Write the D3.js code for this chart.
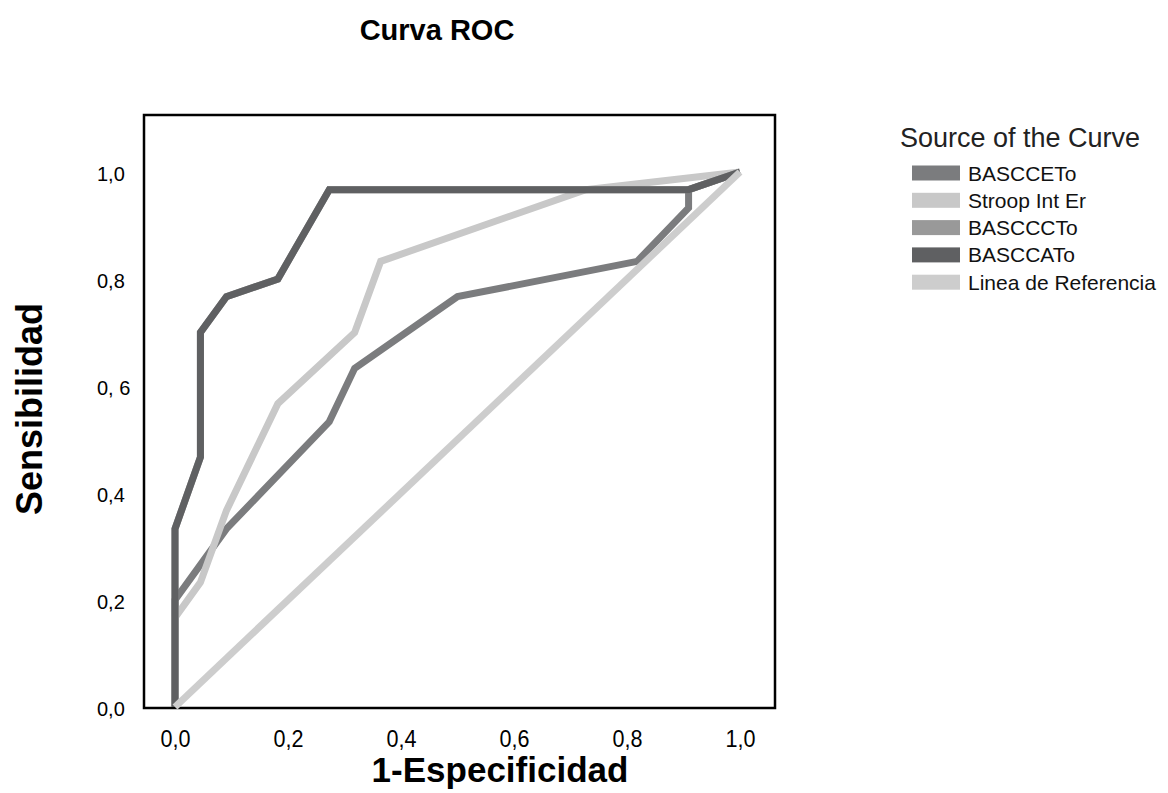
<!DOCTYPE html>
<html>
<head>
<meta charset="utf-8">
<script src="https://cdn.jsdelivr.net/npm/d3@7"></script>
<style>
  body { margin: 0; background: #fff; }
  svg { display: block; font-family: "Liberation Sans", Arial, sans-serif; }
</style>
</head>
<body>
<div id="chart"></div>
<script>
// series names, drawn in this order (SPSS style)
var seriesNames = ["BASCCETo", "Stroop Int Er", "BASCCCTo", "BASCCATo", "Linea de Referencia"];
var seriesColors = ["#7b7c7e", "#c8c8c8", "#999999", "#5f6062", "#cdcdcd"];

// 1-Especificidad / Sensibilidad points for each curve
var basccetoX = [0, 0, 0.091, 0.273, 0.318, 0.5, 0.818, 0.909, 0.909, 1];
var basccetoY = [0, 0.2, 0.333, 0.533, 0.633, 0.767, 0.833, 0.933, 0.967, 1];

var stroopX = [0, 0, 0.045, 0.091, 0.182, 0.318, 0.364, 0.727, 1];
var stroopY = [0, 0.167, 0.233, 0.367, 0.567, 0.7, 0.833, 0.967, 1];

var basccctoX = [0, 0, 0.045, 0.045, 0.091, 0.182, 0.273, 0.909, 1];
var basccctoY = [0, 0.333, 0.467, 0.7, 0.767, 0.8, 0.967, 0.967, 1];

var basccatoX = [0, 0, 0.045, 0.045, 0.091, 0.182, 0.273, 0.909, 1];
var basccatoY = [0, 0.333, 0.467, 0.7, 0.767, 0.8, 0.967, 0.967, 1];

var refX = [0, 1];
var refY = [0, 1];

var tickValues = [0, 0.2, 0.4, 0.6, 0.8, 1];
var xTickLabels = ["0,0", "0,2", "0,4", "0,6", "0,8", "1,0"];
var yTickLabels = ["0,0", "0,2", "0,4", "0, 6", "0,8", "1,0"];

var W = 1168, H = 793;

var svg = d3.select("#chart").append("svg")
    .attr("width", W)
    .attr("height", H);

var xScale = d3.scaleLinear().domain([0, 1]).range([175, 740]);
var yScale = d3.scaleLinear().domain([0, 1]).range([707, 172]);

// title
svg.append("text")
    .attr("x", 437)
    .attr("y", 40)
    .attr("text-anchor", "middle")
    .style("font-weight", "bold")
    .style("font-size", "29px")
    .text("Curva ROC");

// frame
svg.append("rect")
    .attr("x", 144)
    .attr("y", 115)
    .attr("width", 631)
    .attr("height", 593)
    .attr("fill", "none")
    .attr("stroke", "#000")
    .attr("stroke-width", 2.5);

// axes (labels only)
var xAxis = d3.axisBottom(xScale)
    .tickValues(tickValues)
    .tickSize(0)
    .tickPadding(0)
    .tickFormat(function (d, i) { return xTickLabels[i]; });

var xg = svg.append("g")
    .attr("transform", "translate(0,731)")
    .call(xAxis);
xg.select(".domain").remove();
xg.selectAll("text")
    .attr("fill", "#000")
    .attr("textLength", 30)
    .attr("lengthAdjust", "spacingAndGlyphs")
    .style("font-size", "23px");

var yAxis = d3.axisLeft(yScale)
    .tickValues(tickValues)
    .tickSize(0)
    .tickPadding(0)
    .tickFormat(function (d, i) { return yTickLabels[i]; });

var yg = svg.append("g")
    .attr("transform", "translate(97,2)")
    .call(yAxis);
yg.select(".domain").remove();
yg.selectAll("text")
    .attr("fill", "#000")
    .attr("text-anchor", "start")
    .style("font-size", "20px");

// axis titles
svg.append("text")
    .attr("transform", "translate(42,409) rotate(-90)")
    .attr("text-anchor", "middle")
    .style("font-weight", "bold")
    .style("font-size", "36px")
    .text("Sensibilidad");

svg.append("text")
    .attr("x", 500)
    .attr("y", 782)
    .attr("text-anchor", "middle")
    .style("font-weight", "bold")
    .style("font-size", "35px")
    .text("1-Especificidad");

// curves
var curves = [
    { xs: basccetoX, ys: basccetoY },
    { xs: stroopX, ys: stroopY },
    { xs: basccctoX, ys: basccctoY },
    { xs: basccatoX, ys: basccatoY },
    { xs: refX, ys: refY }
];

var line = d3.line()
    .x(function (d) { return xScale(d[0]); })
    .y(function (d) { return yScale(d[1]); });

curves.forEach(function (c, i) {
    var pts = c.xs.map(function (v, j) { return [v, c.ys[j]]; });
    svg.append("path")
        .datum(pts)
        .attr("d", line)
        .attr("fill", "none")
        .attr("stroke", seriesColors[i])
        .attr("stroke-width", 7)
        .attr("stroke-linejoin", "miter");
});

// legend
var legend = svg.append("g").attr("transform", "translate(900,0)");
legend.append("text")
    .attr("x", 0)
    .attr("y", 147)
    .style("font-size", "27px")
    .attr("fill", "#222")
    .text("Source of the Curve");

var rows = legend.selectAll(".row")
    .data(seriesNames)
    .enter().append("g")
    .attr("class", "row")
    .attr("transform", function (d, i) { return "translate(0," + (173 + i * 27.3) + ")"; });

rows.append("rect")
    .attr("x", 12)
    .attr("y", -7.5)
    .attr("width", 48)
    .attr("height", 15)
    .attr("fill", function (d, i) { return seriesColors[i]; });

rows.append("text")
    .attr("x", 68)
    .attr("y", 7.5)
    .style("font-size", "21px")
    .attr("fill", "#111")
    .text(function (d) { return d; });
</script>
</body>
</html>
